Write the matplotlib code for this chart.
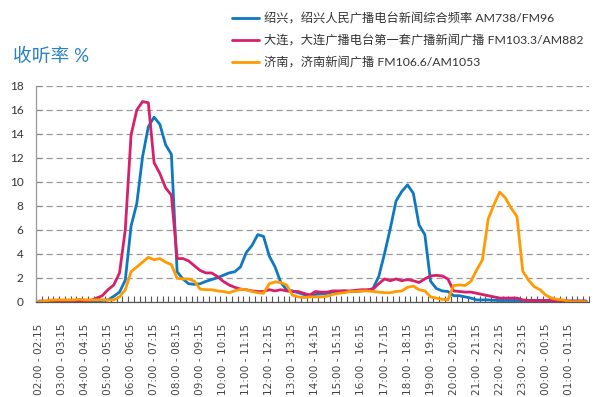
import matplotlib
matplotlib.use("Agg")
import matplotlib.pyplot as plt
import numpy as np

plt.rcParams['font.family'] = ['Lato', 'Noto Sans CJK SC', 'DejaVu Sans']

tick_labels = ["02:00 - 02:15", "03:00 - 03:15", "04:00 - 04:15", "05:00 - 05:15",
               "06:00 - 06:15", "07:00 - 07:15", "08:00 - 08:15", "09:00 - 09:15",
               "10:00 - 10:15", "11:00 - 11:15", "12:00 - 12:15", "13:00 - 13:15",
               "14:00 - 14:15", "15:00 - 15:15", "16:00 - 16:15", "17:00 - 17:15",
               "18:00 - 18:15", "19:00 - 19:15", "20:00 - 20:15", "21:00 - 21:15",
               "22:00 - 22:15", "23:00 - 23:15", "00:00 - 00:15", "01:00 - 01:15"]

series_names = ["绍兴，绍兴人民广播电台新闻综合频率 AM738/FM96",
                "大连，大连广播电台第一套广播新闻广播 FM103.3/AM882",
                "济南，济南新闻广播 FM106.6/AM1053"]

shaoxing = [0.02, 0.02, 0.02, 0.02, 0.02, 0.02, 0.02, 0.02, 0.02, 0.02,
            0.05, 0.1, 0.15, 0.45, 0.8, 1.8, 6.3, 8.2, 12.1, 14.6,
            15.4, 14.8, 13.1, 12.3, 2.5, 1.9, 1.5, 1.45, 1.5, 1.7,
            1.85, 2.0, 2.2, 2.4, 2.5, 2.9, 4.1, 4.7, 5.6, 5.45,
            3.8, 2.9, 1.6, 1.0, 0.9, 0.75, 0.6, 0.55, 0.6, 0.65,
            0.7, 0.8, 0.85, 0.9, 0.85, 0.85, 0.9, 0.95, 1.1, 2.1,
            4.0, 6.1, 8.4, 9.2, 9.75, 9.05, 6.4, 5.6, 1.7, 1.1,
            0.9, 0.85, 0.5, 0.5, 0.4, 0.3, 0.15, 0.15, 0.15, 0.12,
            0.1, 0.1, 0.1, 0.1, 0.1, 0.1, 0.1, 0.1, 0.1, 0.1,
            0.1, 0.1, 0.05, 0.05, 0.05, 0.05]

dalian = [0.05, 0.05, 0.05, 0.05, 0.05, 0.05, 0.1, 0.1, 0.05, 0.1,
          0.3, 0.5, 1.0, 1.4, 2.4, 6.0, 13.9, 16.0, 16.7, 16.6,
          11.6, 10.7, 9.5, 8.9, 3.6, 3.6, 3.4, 3.0, 2.6, 2.4,
          2.4, 2.1, 1.7, 1.4, 1.2, 1.05, 1.0, 0.9, 0.85, 0.85,
          1.0, 0.9, 1.0, 0.9, 0.85, 0.85, 0.7, 0.55, 0.85, 0.8,
          0.8, 0.9, 0.9, 0.9, 0.9, 0.95, 1.0, 1.0, 1.05, 1.5,
          1.9, 1.75, 1.9, 1.75, 1.85, 1.75, 1.6, 1.9, 2.15, 2.2,
          2.15, 1.9, 0.9, 0.85, 0.8, 0.8, 0.7, 0.6, 0.5, 0.4,
          0.3, 0.3, 0.3, 0.3, 0.15, 0.1, 0.1, 0.1, 0.1, 0.1,
          0.05, 0.05, 0.05, 0.05, 0.05, 0.05]

jinan = [0.0, 0.05, 0.12, 0.15, 0.15, 0.15, 0.15, 0.2, 0.15, 0.15,
         0.15, 0.15, 0.15, 0.15, 0.4, 1.0, 2.5, 2.9, 3.3, 3.7,
         3.5, 3.6, 3.3, 3.1, 1.95, 1.9, 1.9, 1.7, 1.05, 1.0,
         1.0, 0.9, 0.85, 0.75, 0.9, 1.05, 1.0, 0.85, 0.75, 0.7,
         1.5, 1.65, 1.6, 1.4, 0.55, 0.4, 0.35, 0.4, 0.4, 0.4,
         0.45, 0.6, 0.7, 0.75, 0.85, 0.85, 0.9, 0.9, 0.85, 0.8,
         0.75, 0.75, 0.85, 0.9, 1.2, 1.3, 1.0, 0.9, 0.4, 0.3,
         0.2, 0.15, 1.35, 1.4, 1.35, 1.7, 2.65, 3.5, 6.9, 8.1,
         9.15, 8.65, 7.8, 7.1, 2.55, 1.8, 1.25, 1.0, 0.55, 0.3,
         0.2, 0.15, 0.0, 0.0, 0.0, 0.0]

colors = ["#0e78c2", "#d8206a", "#ff9a00"]

fig = plt.figure(figsize=(6.0, 3.97), dpi=100)
ax = fig.add_axes([36/600, 1 - 301.7/397, (589-36)/600, (301.7-86)/397])

x = np.arange(len(shaoxing))
for vals, c, name in zip([shaoxing, dalian, jinan], colors, series_names):
    ax.plot(x, vals, color=c, lw=2.0, label=name, solid_joinstyle='round',
            solid_capstyle='round')

ax.set_xlim(-0.5, len(shaoxing) - 0.5)
ax.set_ylim(0, 18)
ax.set_yticks(np.arange(0, 19, 2))
ax.yaxis.grid(True, color="#999999", linestyle=(0, (5, 3)), lw=0.9)
ax.set_axisbelow(True)

ax.set_xticks(x[::4])
ax.set_xticklabels(tick_labels, rotation=90, fontsize=7.6, color="#444444",
                   family=['DejaVu Sans'])
ax.set_xticks(np.arange(-0.5, len(shaoxing), 1), minor=True)
ax.tick_params(axis='x', which='major', length=0, pad=16)
ax.tick_params(axis='x', which='minor', direction='in', length=4, width=0.8, color="#555555")
ax.tick_params(axis='y', direction='in', length=4, width=0.8, color="#888888",
               labelsize=8.5, labelcolor="#333333", pad=9)

for s in ['top', 'right']:
    ax.spines[s].set_visible(False)
ax.spines['left'].set_color("#999999")
ax.spines['bottom'].set_color("#555555")
ax.spines['left'].set_linewidth(0.9)
ax.spines['bottom'].set_linewidth(0.9)

fig.text(13/600, 1 - 65/397, "收听率 %", fontsize=13.5, color="#2a82c6",
         ha='left', va='bottom')

leg = ax.legend(loc='upper left', bbox_to_anchor=(230/600, 1 - 10/397),
                bbox_transform=fig.transFigure, frameon=False, fontsize=8.8,
                handlelength=2.2, handletextpad=0.35, labelspacing=0.78,
                borderpad=0.2, borderaxespad=0)
for t in leg.get_texts():
    t.set_color("#333333")

fig.savefig("out.png", dpi=100)
